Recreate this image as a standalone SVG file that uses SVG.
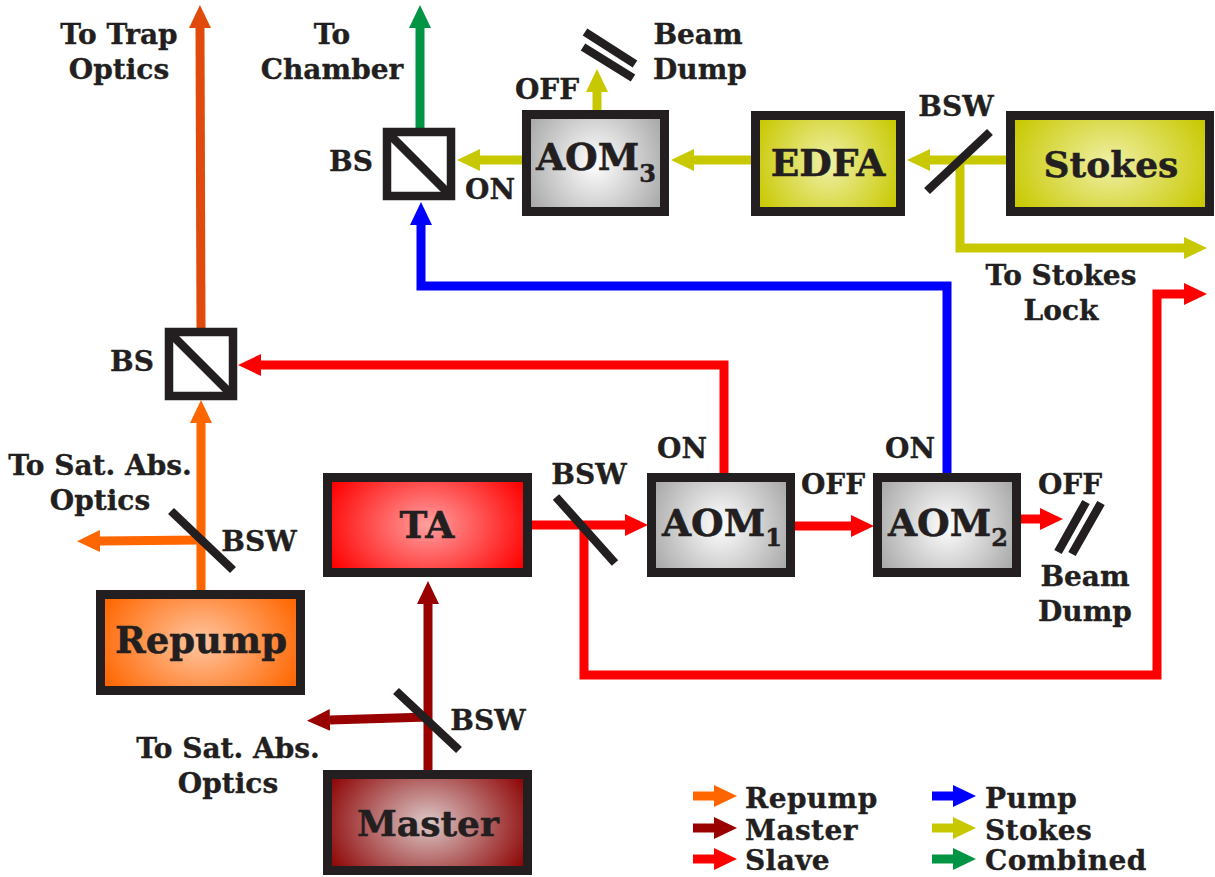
<svg xmlns="http://www.w3.org/2000/svg" width="1215" height="877" viewBox="0 0 1215 877">
<style>
text{font-family:"DejaVu Serif","Liberation Serif",serif;font-weight:bold;fill:#231f20;stroke:#231f20;stroke-width:.35;text-anchor:middle}
.s{font-size:28px}
.b{font-size:37.5px;stroke-width:.5}
.n{font-size:36px;stroke-width:.5}
.l{font-size:28px;letter-spacing:.4px;text-anchor:start}
.box{stroke:#231f20;stroke-width:9}
.c{fill:none;stroke-width:9;stroke-linejoin:miter}
.m{fill:none;stroke:#231f20;stroke-width:8.5}
.cube{fill:#fff;stroke:#231f20;stroke-width:8.5}
.or{stroke:#ff6600}.ma{stroke:#990000}.sl{stroke:#ff0000}.pu{stroke:#0000ff}.st{stroke:#c8c800}.co{stroke:#009444}.tr{stroke:#e04a0c}
</style>
<defs>
<radialGradient id="gO" gradientTransform="translate(.5 .5) scale(1.1 1.7) translate(-.5 -.5)"><stop offset="0" stop-color="#ffc6a2"/><stop offset="1" stop-color="#ff6600"/></radialGradient>
<radialGradient id="gR" gradientTransform="translate(.5 .5) scale(1.1 1.7) translate(-.5 -.5)"><stop offset="0" stop-color="#ffa0a0"/><stop offset="1" stop-color="#ff0000"/></radialGradient>
<radialGradient id="gM" gradientTransform="translate(.5 .5) scale(1.1 1.7) translate(-.5 -.5)"><stop offset="0" stop-color="#dcc8c8"/><stop offset="1" stop-color="#8f0808"/></radialGradient>
<radialGradient id="gA" gradientTransform="translate(.5 .5) scale(1.1 1.7) translate(-.5 -.5)"><stop offset="0" stop-color="#ffffff"/><stop offset="1" stop-color="#a8a8a8"/></radialGradient>
<radialGradient id="gY" gradientTransform="translate(.5 .5) scale(1.1 1.7) translate(-.5 -.5)"><stop offset="0" stop-color="#f0f0a8"/><stop offset="1" stop-color="#c8c800"/></radialGradient>
<marker id="hO" markerUnits="userSpaceOnUse" markerWidth="24" markerHeight="24" refX="0" refY="12" orient="auto"><path d="M0 1L23 12L0 23z" fill="#ff6600"/></marker>
<marker id="hM" markerUnits="userSpaceOnUse" markerWidth="24" markerHeight="24" refX="0" refY="12" orient="auto"><path d="M0 1L23 12L0 23z" fill="#990000"/></marker>
<marker id="hS" markerUnits="userSpaceOnUse" markerWidth="24" markerHeight="24" refX="0" refY="12" orient="auto"><path d="M0 1L23 12L0 23z" fill="#ff0000"/></marker>
<marker id="hP" markerUnits="userSpaceOnUse" markerWidth="24" markerHeight="24" refX="0" refY="12" orient="auto"><path d="M0 1L23 12L0 23z" fill="#0000ff"/></marker>
<marker id="hY" markerUnits="userSpaceOnUse" markerWidth="24" markerHeight="24" refX="0" refY="12" orient="auto"><path d="M0 1L23 12L0 23z" fill="#c8c800"/></marker>
<marker id="hC" markerUnits="userSpaceOnUse" markerWidth="24" markerHeight="24" refX="0" refY="12" orient="auto"><path d="M0 1L23 12L0 23z" fill="#009444"/></marker>
<marker id="hT" markerUnits="userSpaceOnUse" markerWidth="24" markerHeight="24" refX="0" refY="12" orient="auto"><path d="M0 1L23 12L0 23z" fill="#e04a0c"/></marker>
</defs>
<g id="connectors">
<path class="c tr" d="M201 330L200 28" marker-end="url(#hT)"/>
<path class="c co" d="M420 130V28" marker-end="url(#hC)"/>
<path class="c pu" d="M947 475V286H421V225" marker-end="url(#hP)"/>
<path class="c sl" d="M724 475V365H261" marker-end="url(#hS)"/>
<path class="c st" d="M1008 160H930" marker-end="url(#hY)"/>
<path class="c st" d="M753 160H694" marker-end="url(#hY)"/>
<path class="c st" d="M524 160H480" marker-end="url(#hY)"/>
<path class="c st" d="M597 112V92" marker-end="url(#hY)"/>
<path class="c st" d="M960 160V248H1184" marker-end="url(#hY)"/>
<path class="c sl" d="M530 525H625" marker-end="url(#hS)"/>
<path class="c sl" d="M793 526H851" marker-end="url(#hS)"/>
<path class="c sl" d="M1019 519H1040" marker-end="url(#hS)"/>
<path class="c sl" d="M584 525V675H1157V294H1184" marker-end="url(#hS)"/>
<path class="c or" d="M201 592V423" marker-end="url(#hO)"/>
<path class="c or" d="M201 540L100 541" marker-end="url(#hO)"/>
<path class="c ma" d="M428 772V604" marker-end="url(#hM)"/>
<path class="c ma" d="M428 717L330 720" marker-end="url(#hM)"/>
</g>
<g id="bsw-stokes"><path class="m" d="M927 191L990 132"/><text class="s" x="956" y="116">BSW</text></g>
<g id="bsw-ta"><path class="m" d="M556 497L615 563"/><text class="s" x="589" y="484">BSW</text></g>
<g id="bsw-repump"><path class="m" d="M171 511L233 570"/><text class="s" x="259" y="551">BSW</text></g>
<g id="bsw-master"><path class="m" d="M396 691L459 750"/><text class="s" x="488" y="730">BSW</text></g>
<g id="dump-top"><path class="m" d="M585 32L635 64M583 47L633 78"/><text class="s" x="698" y="44">Beam</text><text class="s" x="700" y="79">Dump</text></g>
<g id="dump-right"><path class="m" d="M1086 502L1058 552M1101 503L1072 554"/><text class="s" x="1085" y="586">Beam</text><text class="s" x="1085" y="621">Dump</text></g>
<g id="bs-top"><rect class="cube" x="387" y="132" width="64" height="64"/><path class="m" d="M389 134L449 194"/><text class="s" x="351" y="171">BS</text></g>
<g id="bs-left"><rect class="cube" x="169" y="332" width="64" height="64"/><path class="m" d="M171 334L231 394"/><text class="s" x="132" y="371">BS</text></g>
<g id="stokes"><rect class="box" x="1010.5" y="115.5" width="199" height="96" fill="url(#gY)"/><text class="n" x="1111" y="177">Stokes</text></g>
<g id="edfa"><rect class="box" x="755.5" y="115.5" width="145" height="96" fill="url(#gY)"/><text class="b" x="828" y="176">EDFA</text></g>
<g id="aom3"><rect class="box" x="526.5" y="114.5" width="138" height="97" fill="url(#gA)"/><text class="b" x="596" y="170">AOM<tspan font-size="24" dy="12">3</tspan></text></g>
<g id="aom1"><rect class="box" x="651.5" y="477.5" width="139" height="95" fill="url(#gA)"/><text class="b" x="722" y="536">AOM<tspan font-size="24" dy="10">1</tspan></text></g>
<g id="aom2"><rect class="box" x="877.5" y="477.5" width="139" height="95" fill="url(#gA)"/><text class="b" x="948" y="536">AOM<tspan font-size="24" dy="10">2</tspan></text></g>
<g id="ta"><rect class="box" x="327.5" y="477.5" width="200" height="95" fill="url(#gR)"/><text class="b" x="427" y="538">TA</text></g>
<g id="repump"><rect class="box" x="100.5" y="594.5" width="200" height="96" fill="url(#gO)"/><text class="b" style="font-size:37px" x="201" y="653">Repump</text></g>
<g id="master"><rect class="box" x="327.5" y="774.5" width="200" height="96" fill="url(#gM)"/><text class="n" x="428" y="836">Master</text></g>
<g id="labels">
<text class="s" x="119" y="44">To Trap</text><text class="s" x="119" y="79">Optics</text>
<text class="s" x="332" y="44">To</text><text class="s" x="332" y="79">Chamber</text>
<text class="s" x="547" y="99">OFF</text>
<text class="s" x="490" y="199">ON</text>
<text class="s" x="1061" y="285">To Stokes</text><text class="s" x="1061" y="320">Lock</text>
<text class="s" x="682" y="458">ON</text><text class="s" x="910" y="458">ON</text>
<text class="s" x="833" y="494">OFF</text><text class="s" x="1070" y="494">OFF</text>
<text class="s" x="100" y="475">To Sat. Abs.</text><text class="s" x="100" y="510">Optics</text>
<text class="s" x="228" y="758">To Sat. Abs.</text><text class="s" x="228" y="793">Optics</text>
</g>
<g id="legend">
<path class="c or" d="M693 796H714" marker-end="url(#hO)"/><text class="l" x="745" y="808">Repump</text>
<path class="c ma" d="M693 828H714" marker-end="url(#hM)"/><text class="l" x="745" y="840">Master</text>
<path class="c sl" d="M693 859H714" marker-end="url(#hS)"/><text class="l" x="745" y="870">Slave</text>
<path class="c pu" d="M932 796H953" marker-end="url(#hP)"/><text class="l" x="985" y="808">Pump</text>
<path class="c st" d="M932 828H953" marker-end="url(#hY)"/><text class="l" x="985" y="840">Stokes</text>
<path class="c co" d="M932 859H953" marker-end="url(#hC)"/><text class="l" x="985" y="870">Combined</text>
</g>
</svg>
